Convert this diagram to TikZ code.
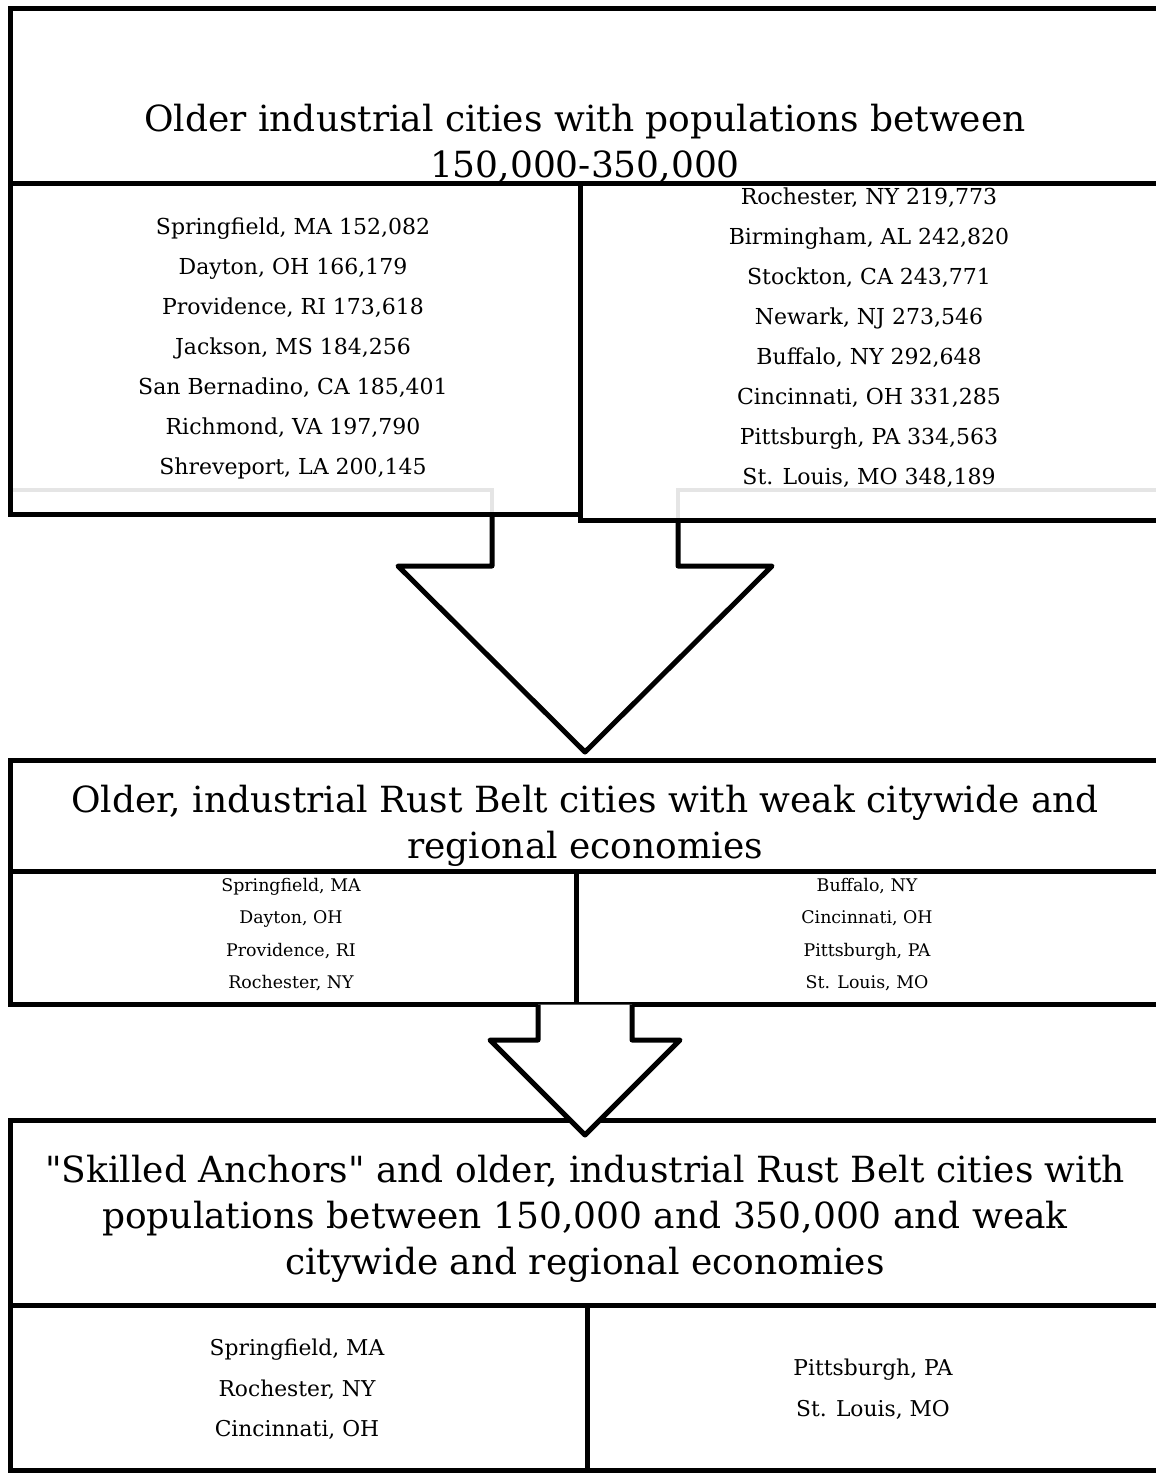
\documentclass[tikz,border=0pt]{standalone}
\usepackage{fontspec}
\setmainfont{DejaVu Serif}[Ligatures=TeXOff]
\usepackage{tikz}

\begin{document}
\begin{tikzpicture}[x=0.5pt,y=-0.5pt]
    % Define styles
    \tikzstyle{box_frame} = [rectangle, draw, line width=2.5pt, anchor=north west, inner sep=0pt]
    \tikzstyle{title_text} = [font=\fontsize{18}{23}\selectfont, align=center, inner sep=0pt]
    \tikzstyle{city_text} = [font=\fontsize{11}{20}\selectfont, align=center, inner sep=0pt]
    \tikzstyle{city_text_small} = [font=\fontsize{8.7}{16.2}\selectfont, align=center, inner sep=0pt]
    \tikzstyle{city_text_big} = [font=\fontsize{10.9}{20.25}\selectfont, align=center, inner sep=0pt]
    \tikzstyle{block_arrow} = [draw, line width=2.5pt, line join=round]
    \tikzstyle{shadow_line} = [draw, gray!20, line width=2pt]

    \useasboundingbox (0,0) rectangle (1156,1473);

    % Lines behind the first boxes
    \path [shadow_line] (8,490) -- (492,490) -- (492,512);
    \path [shadow_line] (678,518) -- (678,490) -- (1160,490);

    % First stage
    \node [box_frame, minimum width=576pt, minimum height=87.5pt] (first_title_box) at (8,6) {};
    \node [box_frame, minimum width=285pt, minimum height=165.5pt] (first_left_box) at (8,181) {};
    \node [box_frame, minimum width=291pt, minimum height=168.5pt] (first_right_box) at (578,181) {};

    \node [title_text] (first_title) at (585,143) {Older industrial cities with populations between\\150,000-350,000};
    \node [city_text] (first_left_list) at (293,348.5) {Springfield, MA 152,082\\Dayton, OH 166,179\\Providence, RI 173,618\\Jackson, MS 184,256\\San Bernadino, CA 185,401\\Richmond, VA 197,790\\Shreveport, LA 200,145};
    \node [city_text] (first_right_list) at (869,338) {Rochester, NY 219,773\\Birmingham, AL 242,820\\Stockton, CA 243,771\\Newark, NJ 273,546\\Buffalo, NY 292,648\\Cincinnati, OH 331,285\\Pittsburgh, PA 334,563\\St. Louis, MO 348,189};

    % Second stage
    \node [box_frame, minimum width=576pt, minimum height=55.5pt] (second_title_box) at (8,758) {};
    \node [box_frame, minimum width=283pt, minimum height=66.5pt] (second_left_box) at (8,869) {};
    \node [box_frame, minimum width=293pt, minimum height=66.5pt] (second_right_box) at (574,869) {};

    \node [title_text] (second_title) at (585,826) {Older, industrial Rust Belt cities with weak citywide and\\regional economies};
    \node [city_text_small] (second_left_list) at (291,934.5) {Springfield, MA\\Dayton, OH\\Providence, RI\\Rochester, NY};
    \node [city_text_small] (second_right_list) at (867,934.5) {Buffalo, NY\\Cincinnati, OH\\Pittsburgh, PA\\St. Louis, MO};

    % Third stage
    \node [box_frame, minimum width=576pt, minimum height=92.5pt] (third_title_box) at (8,1118) {};
    \node [box_frame, minimum width=288.5pt, minimum height=82.5pt] (third_left_box) at (8,1303) {};
    \node [box_frame, minimum width=287.5pt, minimum height=82.5pt] (third_right_box) at (585,1303) {};

    \node [title_text] (third_title) at (585,1219) {"Skilled Anchors" and older, industrial Rust Belt cities with\\populations between 150,000 and 350,000 and weak\\citywide and regional economies};
    \node [city_text_big] (third_left_list) at (297,1389.5) {Springfield, MA\\Rochester, NY\\Cincinnati, OH};
    \node [city_text_big] (third_right_list) at (873,1389) {Pittsburgh, PA\\St. Louis, MO};

    % Arrows
    \path [block_arrow] (492,512) -- (492,566) -- (398,566) -- (585,752) -- (772,566) -- (678,566) -- (678,518);
    \path [block_arrow, fill=white] (538,1004.5) -- (538,1040) -- (490,1040) -- (585,1135) -- (680,1040) -- (632,1040) -- (632,1004.5);
\end{tikzpicture}
\end{document}
